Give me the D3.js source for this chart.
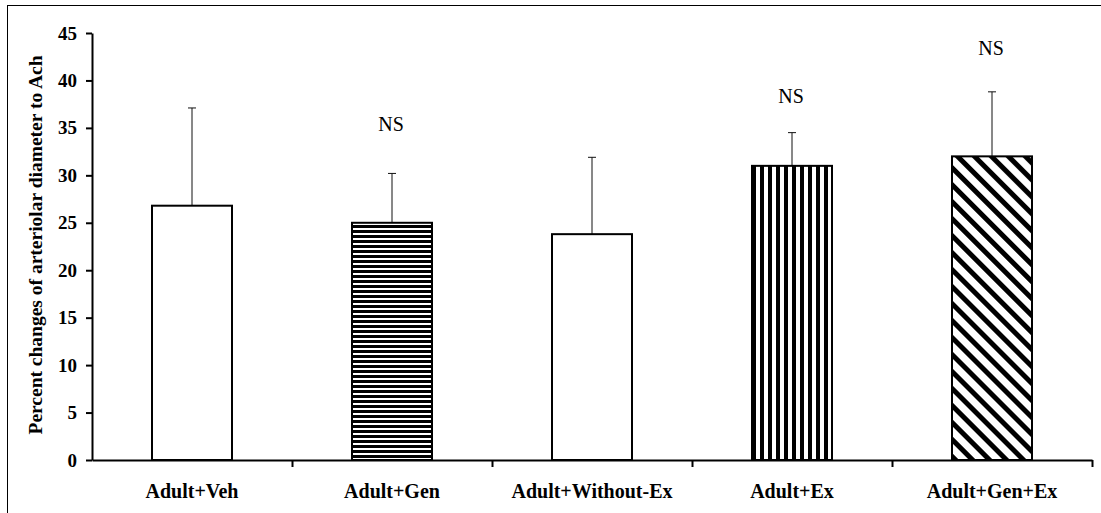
<!DOCTYPE html>
<html>
<head>
<meta charset="utf-8">
<script src="https://cdn.jsdelivr.net/npm/d3@7"></script>
<style>
  html, body { margin: 0; padding: 0; background: #fff; }
  svg { display: block; }
</style>
</head>
<body>
<svg id="chart" width="1101" height="513"></svg>
<script>
// ---- data ----
const categories = ["Adult+Veh", "Adult+Gen", "Adult+Without-Ex", "Adult+Ex", "Adult+Gen+Ex"];
const means      = [26.8, 25.0, 23.8, 31.0, 32.0];
const errors     = [10.3, 5.2, 8.1, 3.5, 6.8];
const sigLabels  = ["", "NS", "", "NS", "NS"];
const sigLevels  = [null, 34.7, null, 37.6, 42.7];
const fills      = ["white", "hstripe", "white", "vstripe", "diag"];
const yTicks     = [0, 5, 10, 15, 20, 25, 30, 35, 40, 45];
const yTitle     = "Percent changes of arteriolar diameter to Ach";

(function () {
// ---- layout ----
const svg = d3.select("#chart");
const font = "'Liberation Serif', 'Times New Roman', serif";
const pLeft = 92, pRight = 1092, pTop = 33, pBottom = 460;

// outer frame
svg.append("rect").attr("x", 7.5).attr("y", 5.5).attr("width", 1110).attr("height", 530)
  .attr("fill", "white").attr("stroke", "#000").attr("stroke-width", 1);

// patterns
const defs = svg.append("defs");
const ph = defs.append("pattern").attr("id", "hstripe").attr("patternUnits", "userSpaceOnUse")
  .attr("width", 10).attr("height", 5);
ph.append("rect").attr("width", 10).attr("height", 5).attr("fill", "white");
ph.append("rect").attr("width", 10).attr("height", 3).attr("fill", "black");

const pv = defs.append("pattern").attr("id", "vstripe").attr("patternUnits", "userSpaceOnUse")
  .attr("width", 8).attr("height", 10);
pv.append("rect").attr("width", 8).attr("height", 10).attr("fill", "white");
pv.append("rect").attr("width", 4).attr("height", 10).attr("fill", "black");

const pd = defs.append("pattern").attr("id", "diag").attr("patternUnits", "userSpaceOnUse")
  .attr("width", 12).attr("height", 12).attr("patternTransform", "rotate(-45)");
pd.append("rect").attr("width", 12).attr("height", 12).attr("fill", "white");
pd.append("rect").attr("width", 5).attr("height", 12).attr("fill", "black");

// scales
const x = d3.scaleBand().domain(categories).range([pLeft, pRight]).paddingInner(0.6).paddingOuter(0.3);
const xb = d3.scaleLinear().domain([0, categories.length]).range([pLeft, pRight]);
const y = d3.scaleLinear().domain([0, 45]).range([pBottom, pTop]);

const data = categories.map((c, i) => ({ c, m: means[i], e: errors[i], f: fills[i], s: sigLabels[i], sl: sigLevels[i] }));

// error bars (upper only)
const eb = svg.append("g");
data.forEach(d => {
  const cx = x(d.c) + x.bandwidth() / 2;
  eb.append("line").attr("x1", cx).attr("x2", cx).attr("y1", y(d.m)).attr("y2", y(d.m + d.e))
    .attr("stroke", "#111").attr("stroke-width", 1);
  eb.append("line").attr("x1", cx - 4).attr("x2", cx + 4).attr("y1", y(d.m + d.e)).attr("y2", y(d.m + d.e))
    .attr("stroke", "#111").attr("stroke-width", 1);
});

// bars
svg.append("g").selectAll("rect").data(data).join("rect")
  .attr("x", d => x(d.c)).attr("width", x.bandwidth())
  .attr("y", d => y(d.m)).attr("height", d => y(0) - y(d.m))
  .attr("fill", d => d.f === "white" ? "white" : `url(#${d.f})`)
  .attr("stroke", "#000").attr("stroke-width", 2);

// NS labels
svg.append("g").selectAll("text").data(data.filter(d => d.s)).join("text")
  .attr("x", d => x(d.c) + x.bandwidth() / 2 - 1)
  .attr("y", d => y(d.sl))
  .attr("text-anchor", "middle")
  .attr("font-family", font).attr("font-size", 20)
  .text(d => d.s);

// y axis
const ya = svg.append("g").attr("transform", `translate(${pLeft},0)`)
  .call(d3.axisLeft(y).tickValues(yTicks).tickSize(6).tickSizeOuter(0).tickPadding(9));
ya.select(".domain").attr("stroke-width", 2);
ya.selectAll(".tick line").attr("stroke-width", 2);
ya.selectAll("text").attr("font-family", font).attr("font-size", 19).attr("font-weight", "bold").attr("fill", "#000");

// x axis (boundary ticks)
const xa = svg.append("g").attr("transform", `translate(0,${pBottom})`)
  .call(d3.axisBottom(xb).tickValues(d3.range(1, categories.length + 1)).tickSize(7).tickSizeOuter(0).tickFormat(""));
xa.select(".domain").attr("stroke-width", 2);
xa.selectAll(".tick line").attr("stroke-width", 2);

// category labels
svg.append("g").selectAll("text").data(categories).join("text")
  .attr("x", d => x(d) + x.bandwidth() / 2)
  .attr("y", 498)
  .attr("text-anchor", "middle")
  .attr("font-family", font).attr("font-size", 20).attr("font-weight", "bold")
  .text(d => d);

// y title
svg.append("text")
  .attr("transform", `translate(42,245) rotate(-90)`)
  .attr("text-anchor", "middle")
  .attr("font-family", font).attr("font-size", 19.5).attr("font-weight", "bold")
  .text(yTitle);
})();
</script>
</body>
</html>
